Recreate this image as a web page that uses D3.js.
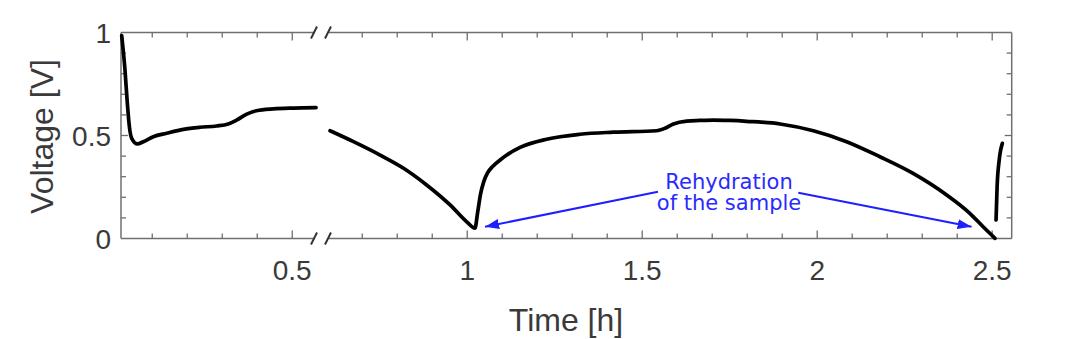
<!DOCTYPE html>
<html>
<head>
<meta charset="utf-8">
<script src="https://cdn.jsdelivr.net/npm/d3@7"></script>
<style>
  html, body { margin: 0; padding: 0; background: #fff; }
  svg { display: block; }
</style>
</head>
<body>
<script>
// ---- data (time in h, voltage in V) ----
const seg1Time = [0.0127, 0.0221, 0.0288, 0.0346, 0.0413, 0.0574, 0.0745, 0.103, 0.141, 0.189, 0.236, 0.284, 0.317, 0.341, 0.370, 0.398, 0.446, 0.503, 0.568];
const seg1Volt = [0.985, 0.818, 0.656, 0.543, 0.486, 0.459, 0.470, 0.494, 0.511, 0.530, 0.540, 0.546, 0.556, 0.575, 0.604, 0.620, 0.629, 0.633, 0.635];

const seg2Time = [0.608, 0.675, 0.751, 0.818, 0.884, 0.951, 0.998, 1.022, 1.030, 1.038, 1.047, 1.058, 1.074, 1.094, 1.113, 1.151, 1.227, 1.322, 1.417, 1.541, 1.565, 1.589, 1.627, 1.664, 1.703, 1.751, 1.798, 1.894, 1.989, 2.084, 2.179, 2.274, 2.370, 2.436, 2.474, 2.508];
const seg2Volt = [0.523, 0.470, 0.405, 0.341, 0.260, 0.163, 0.082, 0.050, 0.130, 0.215, 0.275, 0.318, 0.352, 0.381, 0.405, 0.442, 0.482, 0.506, 0.516, 0.523, 0.535, 0.556, 0.570, 0.573, 0.575, 0.573, 0.569, 0.556, 0.523, 0.470, 0.397, 0.316, 0.211, 0.122, 0.057, 0.001];

const seg3Time = [2.511, 2.514, 2.520, 2.529];
const seg3Volt = [0.090, 0.251, 0.381, 0.462];

const xTickLabels = [0.5, 1, 1.5, 2, 2.5];
const yTickLabels = [0, 0.5, 1];
const xBreak = [0.565, 0.605];   // axis break interval (h)

const annotationLines = ["Rehydration", "of the sample"];
const annotationAnchor = [1.748, 0.241];          // text centre / first baseline
const arrowLeft  = [[1.545, 0.227], [1.051, 0.057]];
const arrowRight = [[1.946, 0.222], [2.441, 0.057]];

// ---- layout ----
const W = 1080, H = 339;
const pLeft = 121, pRight = 1011.7, pTop = 32.5, pBottom = 238.5;

const x = d3.scaleLinear().domain([0.0107, 2.5557]).range([pLeft, pRight]);
const y = d3.scaleLinear().domain([0, 1]).range([pBottom, pTop]);

const svg = d3.select("body").append("svg").attr("width", W).attr("height", H);

const axisColor = "#6f6f6f";
const textColor = "#3a3a3a";

const defs = svg.append("defs");
defs.append("marker")
  .attr("id", "arrow")
  .attr("markerUnits", "userSpaceOnUse")
  .attr("viewBox", "0 0 14 10")
  .attr("refX", 14).attr("refY", 5)
  .attr("markerWidth", 14).attr("markerHeight", 10)
  .attr("orient", "auto")
  .append("path").attr("d", "M0,0 L14,5 L0,10 Z").attr("fill", "#1f1fff");

// ---- axis box ----
const g = svg.append("g");
const bx0 = x(xBreak[0]), bx1 = x(xBreak[1]);
[pTop, pBottom].forEach(yy => {
  g.append("line").attr("x1", pLeft).attr("x2", bx0).attr("y1", yy).attr("y2", yy)
    .attr("stroke", axisColor).attr("stroke-width", 1.5);
  g.append("line").attr("x1", bx1).attr("x2", pRight).attr("y1", yy).attr("y2", yy)
    .attr("stroke", axisColor).attr("stroke-width", 1.5);
  [bx0 - 1, bx1 - 1].forEach(cx => {
    g.append("line").attr("x1", cx - 3).attr("x2", cx + 3).attr("y1", yy + 6).attr("y2", yy - 6)
      .attr("stroke", "#333").attr("stroke-width", 2);
  });
});
g.append("line").attr("x1", pLeft).attr("x2", pLeft).attr("y1", pTop).attr("y2", pBottom)
  .attr("stroke", axisColor).attr("stroke-width", 1.5);
g.append("line").attr("x1", pRight).attr("x2", pRight).attr("y1", pTop).attr("y2", pBottom)
  .attr("stroke", axisColor).attr("stroke-width", 1.5);

// x ticks (every 0.1 h, none inside the break)
const xTicks = d3.range(1, 26).map(i => i / 10).filter(t => t < xBreak[0] || t > xBreak[1]);
xTicks.forEach(t => {
  const major = xTickLabels.some(v => Math.abs(v - t) < 1e-6);
  const len = major ? 8 : 5;
  g.append("line").attr("x1", x(t)).attr("x2", x(t)).attr("y1", pBottom).attr("y2", pBottom - len)
    .attr("stroke", axisColor).attr("stroke-width", 1.3);
  g.append("line").attr("x1", x(t)).attr("x2", x(t)).attr("y1", pTop).attr("y2", pTop + len)
    .attr("stroke", axisColor).attr("stroke-width", 1.3);
});
// y ticks (every 0.1 V)
d3.range(1, 10).map(i => i / 10).forEach(v => {
  const major = Math.abs(v - 0.5) < 1e-6;
  const len = major ? 7 : 5;
  g.append("line").attr("x1", pLeft).attr("x2", pLeft + len).attr("y1", y(v)).attr("y2", y(v))
    .attr("stroke", axisColor).attr("stroke-width", 1.3);
  g.append("line").attr("x1", pRight).attr("x2", pRight - len).attr("y1", y(v)).attr("y2", y(v))
    .attr("stroke", axisColor).attr("stroke-width", 1.3);
});

// tick labels
svg.append("g").selectAll("text").data(xTickLabels).join("text")
  .attr("x", d => x(d)).attr("y", 280)
  .attr("text-anchor", "middle")
  .attr("font-family", "'Liberation Sans', Arial, sans-serif").attr("font-size", 28)
  .attr("fill", textColor)
  .text(d => d3.format("")(d));
svg.append("g").selectAll("text").data(yTickLabels).join("text")
  .attr("x", 111).attr("y", d => y(d)).attr("dy", "0.37em")
  .attr("text-anchor", "end")
  .attr("font-family", "'Liberation Sans', Arial, sans-serif").attr("font-size", 28)
  .attr("fill", textColor)
  .text(d => d3.format("")(d));

// axis titles
svg.append("text").attr("x", 566).attr("y", 331)
  .attr("text-anchor", "middle")
  .attr("font-family", "'Liberation Sans', Arial, sans-serif").attr("font-size", 32)
  .attr("fill", textColor).text("Time [h]");
svg.append("text").attr("transform", "translate(53,136.5) rotate(-90)")
  .attr("text-anchor", "middle")
  .attr("font-family", "'Liberation Sans', Arial, sans-serif").attr("font-size", 32)
  .attr("fill", textColor).text("Voltage [V]");

// ---- curves ----
const line = d3.line().x(d => x(d[0])).y(d => y(d[1])).curve(d3.curveMonotoneX);
[[seg1Time, seg1Volt], [seg2Time, seg2Volt], [seg3Time, seg3Volt]].forEach(([ts, vs]) => {
  svg.append("path").datum(ts.map((t, i) => [t, vs[i]]))
    .attr("d", line)
    .attr("fill", "none").attr("stroke", "#000").attr("stroke-width", 3.7)
    .attr("stroke-linecap", "round").attr("stroke-linejoin", "round");
});

// ---- annotation ----
[arrowLeft, arrowRight].forEach(a => {
  svg.append("line")
    .attr("x1", x(a[0][0])).attr("y1", y(a[0][1]))
    .attr("x2", x(a[1][0])).attr("y2", y(a[1][1]))
    .attr("stroke", "#1f1fff").attr("stroke-width", 2)
    .attr("marker-end", "url(#arrow)");
});
const ann = svg.append("text")
  .attr("text-anchor", "middle")
  .attr("font-family", "'DejaVu Sans', Verdana, sans-serif").attr("font-size", 21)
  .attr("fill", "#2a2aff");
annotationLines.forEach((s, i) => {
  ann.append("tspan").attr("x", x(annotationAnchor[0])).attr("y", y(annotationAnchor[1]) + i * 21).text(s);
});
</script>
</body>
</html>
